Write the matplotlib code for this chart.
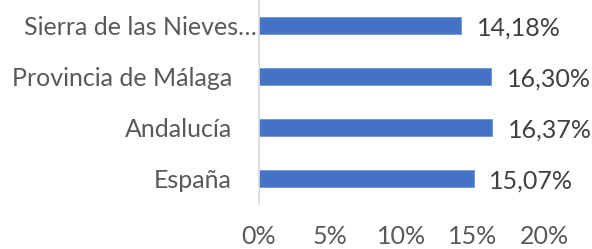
import matplotlib
matplotlib.use("Agg")
import matplotlib.pyplot as plt
from matplotlib.transforms import ScaledTranslation

categories = ["Sierra de las Nieves…", "Provincia de Málaga", "Andalucía", "España"]
values = [14.18, 16.30, 16.37, 15.07]
value_labels = ["14,18%", "16,30%", "16,37%", "15,07%"]
xticks = [0, 5, 10, 15, 20]
xtick_labels = ["0%", "5%", "10%", "15%", "20%"]

plt.rcParams['font.family'] = ['Lato', 'DejaVu Sans']

fig = plt.figure(figsize=(5.92, 2.49), dpi=100)
ax = fig.add_axes([259/592, 1 - 204/249, (544 - 259)/592, 204/249])

ypos = list(range(len(categories)))[::-1]
ax.barh(ypos, values, height=0.35, color="#4472C4", edgecolor="#6f93d4", linewidth=0.6)
for y, v, lab in zip(ypos, values, value_labels):
    ax.text(v + 1.1, y - 0.05, lab, va="center", ha="left", fontsize=18, color="#404040")

ax.set_xlim(0, 20)
ax.set_ylim(-0.5, len(categories) - 0.5)
ax.set_yticks(ypos)
ax.set_yticklabels(categories, fontsize=18, color="#595959")
ax.set_xticks(xticks)
ax.set_xticklabels(xtick_labels, fontsize=18, color="#595959")
ax.tick_params(axis="both", length=0)
ax.tick_params(axis="x", pad=15)
ax.tick_params(axis="y", pad=19.5)
# truncated first label sits closer to the axis
for t in ax.get_yticklabels():
    if t.get_text().endswith("…"):
        t.set_transform(t.get_transform() + ScaledTranslation(25/100, 0, fig.dpi_scale_trans))
for s in ["top", "right", "bottom"]:
    ax.spines[s].set_visible(False)
ax.spines["left"].set_color("#d9d9d9")
ax.spines["left"].set_linewidth(1.2)

fig.savefig("out.png", dpi=100)
